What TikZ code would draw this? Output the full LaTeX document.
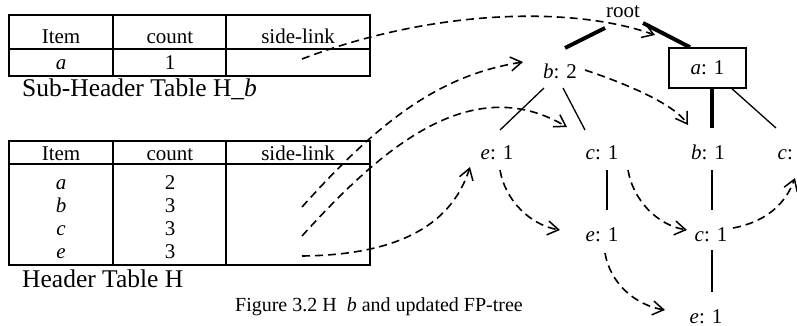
\documentclass[tikz,border=0pt]{standalone}
\usepackage{fontspec}
\setmainfont{Liberation Serif}
\usetikzlibrary{arrows.meta,calc}

\begin{document}
\begin{tikzpicture}[
    x=1pt,y=-1pt,
    cell/.style={inner sep=0pt,anchor=base,font=\fontsize{21}{24}\selectfont},
    treelabel/.style={inner sep=0pt,anchor=base,font=\fontsize{21}{24}\selectfont},
    tabcaption/.style={inner sep=0pt,anchor=base west,font=\fontsize{25.5}{30}\selectfont},
    itembox/.style={draw,line width=1.5pt,minimum width=77pt,minimum height=40pt,
        inner sep=0pt,font=\fontsize{21}{24}\selectfont},
    tablerule/.style={line width=2pt},
    thickedge/.style={line width=4pt},
    thinedge/.style={line width=1.3pt},
    link/.style={-{Straight Barb[length=11pt,width=14pt,line width=1.5pt]},
        line width=1.6pt,dash pattern=on 8pt off 5pt}
]
\useasboundingbox (0,0) rectangle (797,325);

% sub-header table H_b
\draw[tablerule] (9,15) rectangle (370,76);
\draw[tablerule] (9,49) -- (370,49) (113,15) -- (113,76) (226,15) -- (226,76);
\node[cell] (sub-item) at (61,43) {Item};
\node[cell] (sub-count) at (170,43) {count};
\node[cell] (sub-side) at (298,43) {side-link};
\node[cell] (sub-a) at (61,69) {\textit{a}};
\node[cell] (sub-a-count) at (170,69) {1};
\coordinate (sublink-a) at (302,59);
\node[tabcaption] (subcap) at (22,96) {Sub-Header Table H\_\textit{b}};

% header table H
\draw[tablerule] (9,141) rectangle (370,265);
\draw[tablerule] (9,164) -- (370,164) (113,141) -- (113,265) (226,141) -- (226,265);
\node[cell] (hd-item) at (61,160) {Item};
\node[cell] (hd-count) at (170,160) {count};
\node[cell] (hd-side) at (298,160) {side-link};
\node[cell] (hd-a) at (61,189) {\textit{a}};
\node[cell] (hd-a-count) at (170,189) {2};
\node[cell] (hd-b) at (61,212) {\textit{b}};
\node[cell] (hd-b-count) at (170,212) {3};
\node[cell] (hd-c) at (61,235) {\textit{c}};
\node[cell] (hd-c-count) at (170,235) {3};
\node[cell] (hd-e) at (61,258) {\textit{e}};
\node[cell] (hd-e-count) at (170,258) {3};
\coordinate (link-b) at (302,207);
\coordinate (link-c) at (302,236);
\coordinate (link-e) at (302,256);
\node[tabcaption] (hdcap) at (22,287) {Header Table H};

% updated FP-tree
\node[treelabel] (root) at (623,17) {root};
\node[treelabel] (b2) at (560,78) {\textit{b}: 2};
\node[itembox] (a1) at (707.5,68) {\textit{a}: 1};
\node[treelabel] (e1) at (497,159) {\textit{e}: 1};
\node[treelabel] (c1) at (602,159) {\textit{c}: 1};
\node[treelabel] (b1) at (708,159) {\textit{b}: 1};
\node[treelabel] (c2) at (794,159) {\textit{c}: 1};
\node[treelabel] (e2) at (602,241) {\textit{e}: 1};
\node[treelabel] (c3) at (711,241) {\textit{c}: 1};
\node[treelabel] (e3) at (706,323) {\textit{e}: 1};

\draw[thickedge] ($(root.base)+(-18,11)$) -- ($(b2.base)+(5,-30)$);
\draw[thickedge] ($(root.base)+(20,6)$) -- ($(a1.north)+(-17.5,0)$);
\draw[thickedge] ($(a1.south)+(4.5,0)$) -- ($(b1.base)+(4,-31)$);
\draw[thinedge] ($(a1.south)+(24.5,0)$) -- ($(c2.base)+(-18,-31)$);
\draw[thinedge] ($(b2.base)+(-16,10)$) -- ($(e1.base)+(3,-29)$);
\draw[thinedge] ($(b2.base)+(3,10)$) -- ($(c1.base)+(-17,-29)$);
\draw[thinedge] ($(c1.base)+(5,11)$) -- ($(e2.base)+(5,-31)$);
\draw[thinedge] ($(b1.base)+(4,11)$) -- ($(c3.base)+(1,-31)$);
\draw[thinedge] ($(c3.base)+(1,9)$) -- ($(e3.base)+(6,-31)$);

% side-links
\draw[link] (sublink-a) .. controls +(128,-49) and +(-85,-30) .. ($(root.base)+(32,18)$);
\draw[link] (link-b) .. controls +(78,-87) and +(-83,13) .. ($(b2.base)+(-37,-16)$);
\draw[link] (link-c) .. controls +(78,-86) and +(-97,-57) .. ($(c1.base)+(-35,-32)$);
\draw[link] (link-e) .. controls +(88,-1) and +(-20,63) .. ($(e1.base)+(-27,8)$);
\draw[link] ($(b2.base)+(25,-8)$) .. controls +(45,15) and +(-13,-20) .. ($(b1.base)+(-20,-34)$);
\draw[link] ($(e1.base)+(3,11)$) .. controls +(5,30) and +(-30,-5) .. ($(e2.base)+(-42,-11)$);
\draw[link] ($(c1.base)+(26,11)$) .. controls +(5,30) and +(-30,-5) .. ($(c3.base)+(-24,-11)$);
\draw[link] ($(e2.base)+(3,12)$) .. controls +(5,30) and +(-30,-5) .. ($(e3.base)+(-41,-13)$);
\draw[link] ($(c3.base)+(22,-13)$) .. controls +(32,-6) and +(-10,27) .. ($(c2.base)+(1,19)$);

\node[inner sep=0pt,anchor=base,font=\fontsize{20}{24}\selectfont] (figcap) at (379,311)
    {Figure 3.2 H\ \ \textit{b} and updated FP-tree};
\end{tikzpicture}
\end{document}
